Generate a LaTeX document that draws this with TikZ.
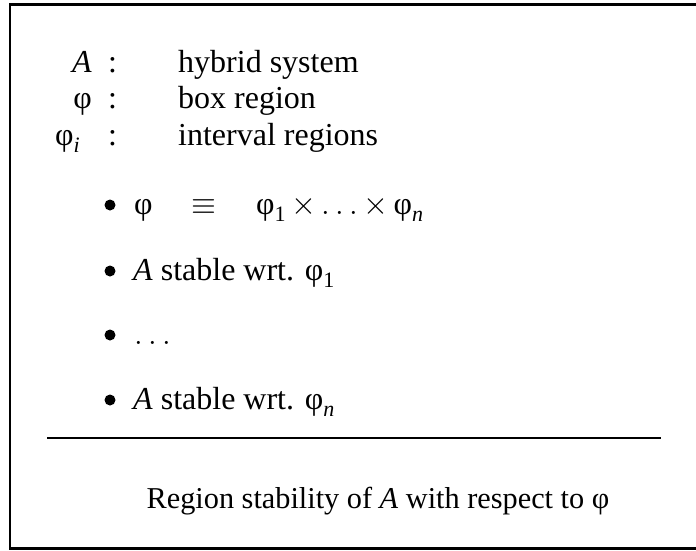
\documentclass[tikz,border=0pt]{standalone}
\usepackage{fix-cm}
\usepackage{fontspec}
\setmainfont{Liberation Serif}
\newcommand\lowsub[1]{\raisebox{-0.22em}{\fontsize{22}{22}\selectfont #1}}
\begin{document}
\begin{tikzpicture}[x=1pt,y=-1pt,
  txt/.style={anchor=base west, inner sep=0pt, font=\fontsize{32}{38}\selectfont},
  txtr/.style={anchor=base east, inner sep=0pt, font=\fontsize{32}{38}\selectfont},
  txtc/.style={anchor=base, inner sep=0pt, font=\fontsize{30.3}{36}\selectfont},
  dot/.style={circle, fill=black, inner sep=0pt, minimum size=11pt},
  frameline/.style={line width=2.5pt, line cap=rect},
  rule/.style={line width=2pt}]
\useasboundingbox (0,0) rectangle (696,550);
\draw[frameline] (720,4.5) -- (10,4.5) -- (10,548.5) -- (720,548.5);
% definitions
\node[txtr] (dA) at (92,72) {\textit{A}};
\node[txt] (c1) at (108,72) {:};
\node[txt] (t1) at (178,72) {hybrid system};
\node[txtr] (dphi) at (92,108) {φ};
\node[txt] (c2) at (108,108) {:};
\node[txt] (t2) at (178,108) {box region};
\node[txtr] (dphii) at (80,145) {φ\lowsub{\textit{i}}};
\node[txt] (c3) at (108,145) {:};
\node[txt] (t3) at (178,145) {interval regions};
% bullets
\node[dot] (b1) at (110,205) {};
\node[txt] (l1a) at (134,214) {φ};
\node[txt] (l1b) at (191,214) {$\equiv$};
\node[txt] (l1c) at (256,214) {φ\lowsub{1}\,$\times\ldots\times$\,φ\lowsub{\textit{n}}};
\node[dot] (b2) at (110,271) {};
\node[txt] (l2) at (133,280) {\textit{A} stable wrt. φ\lowsub{1}};
\node[dot] (b3) at (110,335) {};
\node[txt] (l3) at (134,344) {$\ldots$};
\node[dot] (b4) at (110,400) {};
\node[txt] (l4) at (133,409) {\textit{A} stable wrt. φ\lowsub{\textit{n}}};
% rule
\coordinate (r1) at (47,438);
\coordinate (r2) at (661,438);
\draw[rule] (r1) -- (r2);
% conclusion
\node[txtc] (concl) at (378,508) {Region stability of \textit{A} with respect to φ};
\end{tikzpicture}
\end{document}
